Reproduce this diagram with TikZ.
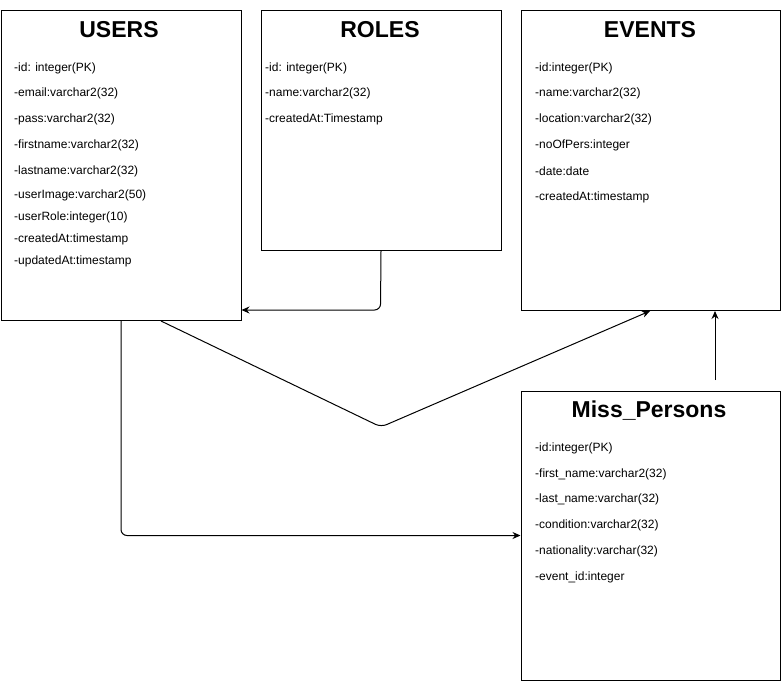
\documentclass[tikz,border=0pt]{standalone}
\usepackage{fontspec}
\setmainfont{Liberation Sans}
\usetikzlibrary{arrows.meta}
\begin{document}
\begin{tikzpicture}[x=1pt,y=-1pt,
  tbl/.style={draw=black,line width=1pt,fill=white,anchor=north west,inner sep=0pt},
  ttl/.style={font=\fontsize{23}{26}\selectfont\bfseries,anchor=center,inner sep=0pt},
  fld/.style={font=\fontsize{12}{14}\selectfont,anchor=west,inner sep=0pt},
  conn/.style={draw=black,line width=1pt,rounded corners=6pt,-{Stealth[length=8pt,width=7pt]}}]
\useasboundingbox (0,0) rectangle (781,681);
% boxes
\node[tbl,minimum width=240pt,minimum height=310pt] (users) at (0.5,10) {};
\node[tbl,minimum width=240pt,minimum height=240pt] (roles) at (260.5,10) {};
\node[tbl,minimum width=259pt,minimum height=300pt] (events) at (520.5,10) {};
\node[tbl,minimum width=259pt,minimum height=289pt] (miss) at (520.5,391) {};
% titles
\node[ttl] (tu) at (119,30) {USERS};
\node[ttl] (tr) at (380,30) {ROLES};
\node[ttl] (te) at (650,30) {EVENTS};
\node[ttl] (tm) at (649,411) {Miss\_Persons};
% USERS fields
\node[fld] (u1) at (14,68) {-id: integer(PK)};
\node[fld] (u2) at (14,93) {-email:varchar2(32)};
\node[fld] (u3) at (14,119) {-pass:varchar2(32)};
\node[fld] (u4) at (14,145) {-firstname:varchar2(32)};
\node[fld] (u5) at (14,171) {-lastname:varchar2(32)};
\node[fld] (u6) at (14,195) {-userImage:varchar2(50)};
\node[fld] (u7) at (14,217) {-userRole:integer(10)};
\node[fld] (u8) at (14,239) {-createdAt:timestamp};
\node[fld] (u9) at (14,261) {-updatedAt:timestamp};
% ROLES fields
\node[fld] (r1) at (265,68) {-id: integer(PK)};
\node[fld] (r2) at (265,93) {-name:varchar2(32)};
\node[fld] (r3) at (265,119) {-createdAt:Timestamp};
% EVENTS fields
\node[fld] (e1) at (535,68) {-id:integer(PK)};
\node[fld] (e2) at (535,93) {-name:varchar2(32)};
\node[fld] (e3) at (535,119) {-location:varchar2(32)};
\node[fld] (e4) at (535,145) {-noOfPers:integer};
\node[fld] (e5) at (535,171) {-date:date};
\node[fld] (e6) at (535,197) {-createdAt:timestamp};
% Miss_Persons fields
\node[fld] (m1) at (535,448) {-id:integer(PK)};
\node[fld] (m2) at (535,474) {-first\_name:varchar2(32)};
\node[fld] (m3) at (535,499) {-last\_name:varchar(32)};
\node[fld] (m4) at (535,525) {-condition:varchar2(32)};
\node[fld] (m5) at (535,551) {-nationality:varchar(32)};
\node[fld] (m6) at (535,577) {-event\_id:integer};
% connectors
\coordinate (mstart) at (715,380);
\draw[conn] (roles.south) -- (380.5,310) -- (users.east |- 0,310);
\draw[conn] (users.south -| 161,0) -- (381,427) -- (events.south -| 650,0);
\draw[conn] (mstart) -- (events.south -| 715,0);
\draw[conn] (users.south -| 121,0) -- (121,535.5) -- (miss.west |- 0,535.5);
\end{tikzpicture}
\end{document}
